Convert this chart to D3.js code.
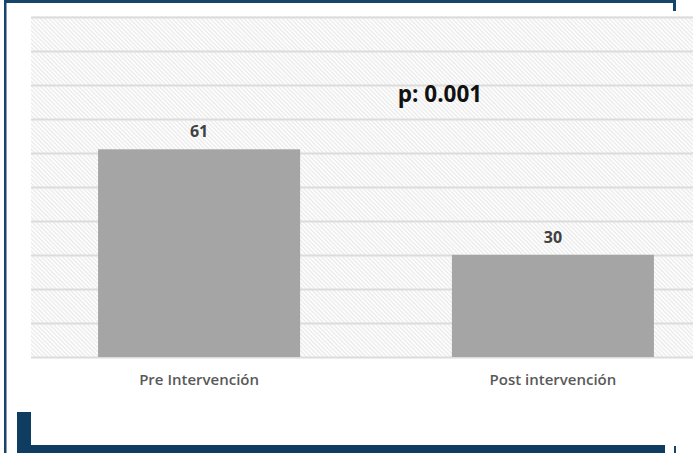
<!DOCTYPE html>
<html><head><meta charset="utf-8">
<script src="https://cdn.jsdelivr.net/npm/d3@7"></script>
<style>body{margin:0;background:#fff;}svg{display:block;}</style>
</head><body>
<script>
const categories = ["Pre Intervención", "Post intervención"];
const values = [61, 30];
const yTicks = [0,10,20,30,40,50,60,70,80,90,100];
const annotation = "p: 0.001";

const W = 693, H = 453;
const svg = d3.select("body").append("svg").attr("width", W).attr("height", H);
const defs = svg.append("defs");
const pat = defs.append("pattern").attr("id","hatch").attr("patternUnits","userSpaceOnUse")
  .attr("width",3).attr("height",3).attr("patternTransform","rotate(-45)");
pat.append("rect").attr("width",3).attr("height",3).attr("fill","#fcfcfc");
pat.append("rect").attr("width",1).attr("height",3).attr("fill","#e8e8e8");

const plot = {left:31, right:693, top:16, bottom:357};
const x = d3.scaleBand().domain(categories).range([22,730]).paddingInner(0.429).paddingOuter(0.215);
const y = d3.scaleLinear().domain([0,100]).range([plot.bottom, plot.top+0.5]);

svg.append("rect").attr("x",plot.left).attr("y",plot.top).attr("width",plot.right-plot.left)
  .attr("height",plot.bottom-plot.top).attr("fill","url(#hatch)");

svg.append("g").selectAll("line").data(yTicks).join("line")
  .attr("x1",plot.left).attr("x2",plot.right)
  .attr("y1",d=>Math.round(y(d))+0.5).attr("y2",d=>Math.round(y(d))+0.5)
  .attr("stroke","#dcdcdc").attr("stroke-width",2);

svg.append("g").selectAll("rect").data(values).join("rect")
  .attr("x",(d,i)=>x(categories[i])).attr("width",x.bandwidth())
  .attr("y",d=>y(d)).attr("height",d=>y(0)-y(d)).attr("fill","#a5a5a5");

const font = "'Open Sans', Lato, sans-serif";
svg.append("g").selectAll("text").data(values).join("text")
  .attr("x",(d,i)=>x(categories[i])+x.bandwidth()/2).attr("y",d=>y(d)-12)
  .attr("text-anchor","middle").attr("font-family",font)
  .attr("font-weight",700).attr("font-size",16).attr("fill","#404040").text(d=>d);

svg.append("g").selectAll("text").data(categories).join("text")
  .attr("x",d=>x(d)+x.bandwidth()/2).attr("y",385)
  .attr("text-anchor","middle").attr("font-family",font)
  .attr("font-weight",600).attr("font-size",15).attr("fill","#595959").text(d=>d);

svg.append("text").attr("x",440).attr("y",102).attr("text-anchor","middle")
  .attr("font-family",font).attr("font-weight",700)
  .attr("font-size",22.5).attr("fill","#111").text(annotation);

// frame decorations
const blue = "#17456a";
svg.append("rect").attr("x",4).attr("y",0).attr("width",672).attr("height",3).attr("fill",blue);
svg.append("rect").attr("x",4).attr("y",0).attr("width",2.5).attr("height",H).attr("fill",blue);
svg.append("rect").attr("x",673).attr("y",0).attr("width",3).attr("height",11).attr("fill",blue);
svg.append("rect").attr("x",17).attr("y",412).attr("width",14).attr("height",41).attr("fill","#0f3d62");
svg.append("rect").attr("x",17).attr("y",445).attr("width",648).attr("height",8).attr("fill","#0f3d62");
svg.append("rect").attr("x",674).attr("y",446).attr("width",2).attr("height",7).attr("fill",blue);
</script>
</body></html>
